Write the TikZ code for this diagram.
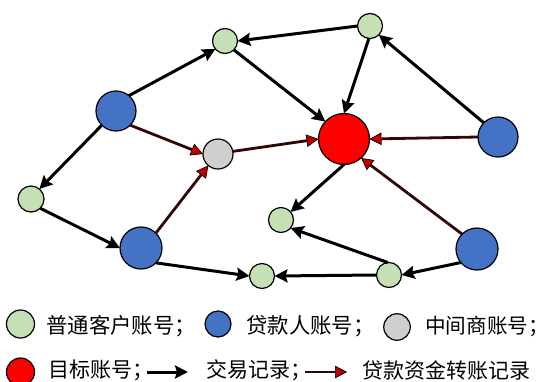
\documentclass[tikz,border=0pt]{standalone}
\usepackage{fontspec}
\setmainfont{Noto Sans CJK SC}
\usetikzlibrary{arrows.meta}
\definecolor{gfill}{HTML}{C5E0B4}
\definecolor{bfill}{HTML}{4472C4}
\definecolor{cfill}{HTML}{D0CECE}
\definecolor{darkred}{HTML}{300606}
\definecolor{tipred}{HTML}{C00000}
\tikzset{
  acct/.style={circle,draw=black,line width=1.2pt,inner sep=0pt,outer sep=0pt},
  gn/.style={acct,fill=gfill,minimum size=25pt},
  bl/.style={acct,fill=bfill,minimum size=40pt},
  gy/.style={acct,fill=cfill,minimum size=30pt},
  rd/.style={acct,fill=red,minimum size=51pt},
  txn/.style={draw=black,line width=3pt,-{Stealth[length=13pt,width=13pt,inset=2pt]}},
  loan/.style={draw=darkred,line width=2.8pt,-{Triangle[length=12pt,width=12.5pt,line width=0.7pt,color=black,fill=tipred]}},
  lab/.style={anchor=west,inner sep=0pt,font=\fontsize{21.4pt}{23pt}\selectfont,text=black},
  labb/.style={lab,font=\fontsize{21pt}{23pt}\selectfont}
}
\begin{document}
\begin{tikzpicture}[x=1pt,y=-1pt]
\useasboundingbox (0,0) rectangle (540,381);
\clip (0,0) rectangle (540,381);
\node[gn] (gTL) at (225,41) {};
\node[gn] (gTR) at (370,26) {};
\node[bl] (b1) at (116,111) {};
\node[gy] (gray) at (218,154) {};
\node[rd] (target) at (344,139) {};
\node[bl] (bR) at (498,137) {};
\node[gn,minimum size=26pt] (gL) at (31,199) {};
\node[gn] (gC) at (281,220) {};
\node[bl,minimum size=42pt] (bBL) at (141,248) {};
\node[bl,minimum size=42pt] (bBR) at (477,249) {};
\node[gn] (gB) at (262,276) {};
\node[gn] (gBR) at (389,275) {};
\draw[txn] (b1.50) -- (gTL.220);
\draw[txn] (b1.-135) -- (gL.50);
\draw[loan] (b1.-45) -- (gray.180);
\draw[txn] (gL.-45) -- (bBL.west);
\draw[loan] (bBL.45) -- (gray.230);
\draw[txn] (bBL.-45) -- (gB.west);
\draw[loan] (gray.10) -- (target.180);
\draw[txn] (gTL.-45) -- (target.137);
\draw[txn] (gTR.west) -- (gTL.east);
\draw[txn] (gTR.-95) -- (target.north);
\draw[txn] (bR.135) -- (gTR.-45);
\draw[loan] (bR.west) -- (target.east);
\draw[loan] (bBR.135) -- (target.-48);
\draw[txn] (bBR.-140) -- (gBR.east);
\draw[txn] (gBR.95) -- (gC.-40);
\draw[txn] (gBR.west) -- (gB.east);
\draw[txn] (target.-90) -- (gC.40);
% legend
\node[gn,minimum size=28pt] (lg) at (20.5,324) {};
\node[lab] (lgt) at (46,326) {普通客户账号；};
\node[gn,fill=bfill,minimum size=26pt] (lb) at (218,324) {};
\node[lab] (lbt) at (246,326) {贷款人账号；};
\node[gy,minimum size=26.5pt] (lc) at (397,327) {};
\node[lab,font=\fontsize{20.6pt}{23pt}\selectfont] (lct) at (425,326) {中间商账号；\kern-12pt};
\node[rd,minimum size=28pt] (lr) at (20.5,372) {};
\node[labb] (lrt) at (48,370.5) {目标账号；};
\coordinate (a1) at (147,372); \coordinate (a2) at (188,372);
\draw[txn] (a1) -- (a2);
\node[labb] (ltx) at (206,370.5) {交易记录；};
\coordinate (a3) at (305,372); \coordinate (a4) at (347,372);
\draw[loan] (a3) -- (a4);
\node[labb] (lln) at (362,370.5) {贷款资金转账记录};
\end{tikzpicture}
\end{document}
